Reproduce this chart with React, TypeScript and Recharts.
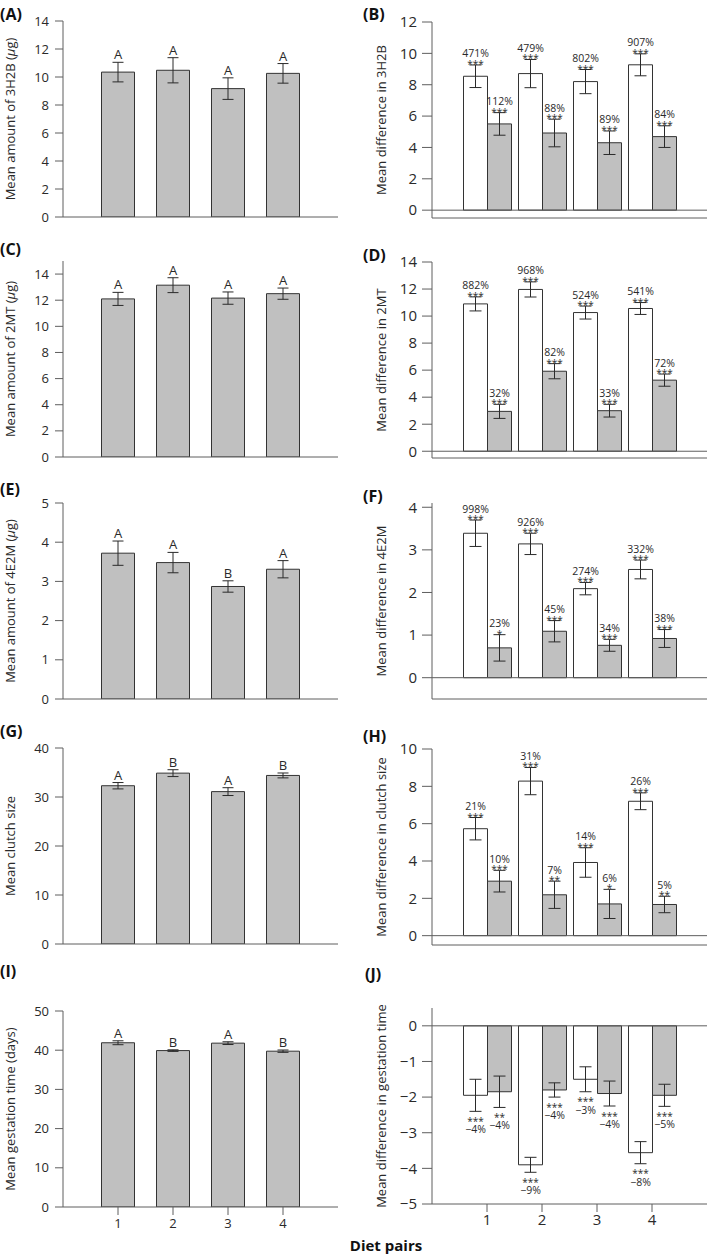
import React from "react";
import { Bar, BarChart, ErrorBar, LabelList, ReferenceLine, XAxis, YAxis } from "recharts";

const pairs = ["1", "2", "3", "4"];

// left column: mean amounts, letters = significance groups
const amount3H2B = [10.35, 10.48, 9.17, 10.26];
const amount3H2BErr = [0.7, 0.9, 0.77, 0.7];
const amount3H2BGroup = ["A", "A", "A", "A"];

const amount2MT = [12.1, 13.15, 12.16, 12.5];
const amount2MTErr = [0.5, 0.57, 0.47, 0.43];
const amount2MTGroup = ["A", "A", "A", "A"];

const amount4E2M = [3.72, 3.48, 2.87, 3.31];
const amount4E2MErr = [0.31, 0.26, 0.145, 0.22];
const amount4E2MGroup = ["A", "A", "B", "A"];

const clutch = [32.3, 34.87, 31.1, 34.4];
const clutchErr = [0.65, 0.7, 0.8, 0.5];
const clutchGroup = ["A", "B", "A", "B"];

const gestation = [41.9, 39.9, 41.8, 39.75];
const gestationErr = [0.5, 0.2, 0.35, 0.3];
const gestationGroup = ["A", "B", "A", "B"];

// right column: mean differences, white and grey bars
const diff3H2BWhite = [8.54, 8.71, 8.2, 9.27];
const diff3H2BWhiteErr = [0.72, 0.9, 0.77, 0.7];
const diff3H2BWhitePct = ["471%", "479%", "802%", "907%"];
const diff3H2BWhiteStars = ["***", "***", "***", "***"];
const diff3H2BGrey = [5.5, 4.92, 4.3, 4.69];
const diff3H2BGreyErr = [0.72, 0.88, 0.75, 0.69];
const diff3H2BGreyPct = ["112%", "88%", "89%", "84%"];
const diff3H2BGreyStars = ["***", "***", "***", "***"];

const diff2MTWhite = [10.9, 11.97, 10.26, 10.56];
const diff2MTWhiteErr = [0.52, 0.56, 0.48, 0.44];
const diff2MTWhitePct = ["882%", "968%", "524%", "541%"];
const diff2MTWhiteStars = ["***", "***", "***", "***"];
const diff2MTGrey = [2.95, 5.92, 3.0, 5.26];
const diff2MTGreyErr = [0.52, 0.56, 0.47, 0.45];
const diff2MTGreyPct = ["32%", "82%", "33%", "72%"];
const diff2MTGreyStars = ["***", "***", "***", "***"];

const diff4E2MWhite = [3.39, 3.14, 2.09, 2.54];
const diff4E2MWhiteErr = [0.31, 0.25, 0.145, 0.22];
const diff4E2MWhitePct = ["998%", "926%", "274%", "332%"];
const diff4E2MWhiteStars = ["***", "***", "***", "***"];
const diff4E2MGrey = [0.7, 1.09, 0.76, 0.92];
const diff4E2MGreyErr = [0.31, 0.25, 0.14, 0.21];
const diff4E2MGreyPct = ["23%", "45%", "34%", "38%"];
const diff4E2MGreyStars = ["*", "***", "***", "***"];

const diffClutchWhite = [5.73, 8.28, 3.92, 7.2];
const diffClutchWhiteErr = [0.6, 0.73, 0.79, 0.45];
const diffClutchWhitePct = ["21%", "31%", "14%", "26%"];
const diffClutchWhiteStars = ["***", "***", "***", "***"];
const diffClutchGrey = [2.92, 2.19, 1.7, 1.67];
const diffClutchGreyErr = [0.58, 0.73, 0.78, 0.44];
const diffClutchGreyPct = ["10%", "7%", "6%", "5%"];
const diffClutchGreyStars = ["***", "**", "*", "**"];

const diffGestWhite = [-1.95, -3.9, -1.5, -3.56];
const diffGestWhiteErr = [0.45, 0.21, 0.35, 0.31];
const diffGestWhitePct = ["\u22124%", "\u22129%", "\u22123%", "\u22128%"];
const diffGestWhiteStars = ["***", "***", "***", "***"];
const diffGestGrey = [-1.85, -1.8, -1.9, -1.95];
const diffGestGreyErr = [0.44, 0.2, 0.35, 0.31];
const diffGestGreyPct = ["\u22124%", "\u22124%", "\u22124%", "\u22125%"];
const diffGestGreyStars = ["**", "***", "***", "***"];

// y ticks
const ticks3H2B = [0, 2, 4, 6, 8, 10, 12, 14];
const ticks2MT = [0, 2, 4, 6, 8, 10, 12, 14];
const ticks4E2M = [0, 1, 2, 3, 4, 5];
const ticksClutch = [0, 10, 20, 30, 40];
const ticksGestation = [0, 10, 20, 30, 40, 50];
const ticksDiff3H2B = [0, 2, 4, 6, 8, 10, 12];
const ticksDiff2MT = [0, 2, 4, 6, 8, 10, 12, 14];
const ticksDiff4E2M = [0, 1, 2, 3, 4];
const ticksDiffClutch = [0, 2, 4, 6, 8, 10];
const ticksDiffGest = [-5, -4, -3, -2, -1, 0];

const FONT = "'Open Sans', sans-serif";
const AXIS = "#5e5e5e";
const INK = "#2a2a2a";
const GREY = "#c0c0c0";
const BOX_H = 196;
const TOP = 40; // room above the box so long axis titles are not clipped
const XH = 34;

const minus = (v: number) => (v < 0 ? "\u2212" + Math.abs(v) : String(v));

const yTitle = (parts: React.ReactNode, cx: number) => () => {
  const cy = TOP + BOX_H / 2;
  return (
    <text x={cx} y={cy} transform={`rotate(-90 ${cx} ${cy})`} textAnchor="middle" dominantBaseline="central"
      fontFamily={FONT} fontSize={13} fill={INK}>
      {parts}
    </text>
  );
};

const barBox = (props: any) => {
  const vb = props.viewBox && props.viewBox.width != null ? props.viewBox : props;
  return { x: Number(vb.x), y: Number(vb.y), width: Number(vb.width), height: Number(vb.height) };
};

const groupLabel = (vals: number[], errs: number[], texts: string[]) => (props: any) => {
  const i = Number(props.value);
  const { x, y, width, height } = barBox(props);
  const ppu = Math.abs(height / vals[i]);
  const top = Math.min(y, y + height) - errs[i] * ppu;
  return (
    <text x={x + width / 2} y={top - 3} textAnchor="middle" fontFamily={FONT} fontSize={13} fill={INK}>
      {texts[i]}
    </text>
  );
};

// percent change and significance stars, above the error bar (or below it for negative bars)
const pctLabel = (vals: number[], errs: number[], pcts: string[], stars: string[]) => (props: any) => {
  const i = Number(props.value);
  const { x, y, width, height } = barBox(props);
  const v = vals[i];
  const ppu = Math.abs(height / v);
  const cx = x + width / 2;
  if (v >= 0) {
    const top = Math.min(y, y + height) - errs[i] * ppu;
    return (
      <text textAnchor="middle" fontFamily={FONT} fill={INK}>
        <tspan x={cx} y={top - 7.5} fontSize={10.5}>{pcts[i]}</tspan>
        <tspan x={cx} y={top + 3} fontSize={10}>{stars[i]}</tspan>
      </text>
    );
  }
  const bottom = Math.max(y, y + height) + errs[i] * ppu;
  return (
    <text textAnchor="middle" fontFamily={FONT} fill={INK}>
      <tspan x={cx} y={bottom + 13.5} fontSize={10}>{stars[i]}</tspan>
      <tspan x={cx} y={bottom + 22} fontSize={10.5}>{pcts[i]}</tspan>
    </text>
  );
};

function AmountPanel({ boxTop, title, domain, ticks, values, errors, groups, showX }: any) {
  const data = pairs.map((pair, i) => ({ pair, v: values[i], e: errors[i], i }));
  return (
    <div style={{ position: "absolute", left: 0, top: boxTop - TOP }}>
      <BarChart width={355} height={TOP + BOX_H + XH} data={data} margin={{ top: TOP, right: 17, bottom: 0, left: 0 }}>
        <XAxis dataKey="pair" height={XH} padding={{ left: 27.5, right: 27.5 }} stroke={AXIS} tickSize={8} tickMargin={4}
          tick={showX ? { fill: INK, fontSize: 13, fontFamily: FONT } : false} />
        <XAxis xAxisId="frame" orientation="top" dataKey="pair" height={0} tick={false} tickLine={false} stroke={AXIS} />
        <YAxis width={63} domain={domain} ticks={ticks} interval={0} allowDataOverflow stroke={AXIS} tickSize={8} tickMargin={6}
          tick={{ fill: INK, fontSize: 13, fontFamily: FONT }} label={yTitle(title, 10)} />
        <YAxis yAxisId="frame" orientation="right" width={0} domain={[0, 1]} tick={false} tickLine={false} stroke={AXIS} />
        <Bar dataKey="v" fill={GREY} stroke="#333" strokeWidth={1} barSize={33} isAnimationActive={false}>
          <ErrorBar dataKey="e" width={5.5} stroke={INK} strokeWidth={1} isAnimationActive={false} />
          <LabelList dataKey="i" content={groupLabel(values, errors, groups)} />
        </Bar>
      </BarChart>
    </div>
  );
}

function DiffPanel({ boxTop, title, domain, ticks, white, whiteErr, whitePct, whiteStars, grey, greyErr, greyPct, greyStars, showX }: any) {
  const data = pairs.map((pair, i) => ({ pair, w: white[i], we: whiteErr[i], g: grey[i], ge: greyErr[i], i }));
  return (
    <div style={{ position: "absolute", left: 355, top: boxTop - TOP }}>
      <BarChart width={354} height={TOP + BOX_H + XH} data={data} barGap={0}
        margin={{ top: TOP, right: 2, bottom: 0, left: 0 }}>
        <XAxis dataKey="pair" height={XH} padding={{ left: 27.5, right: 27.5 }} stroke={AXIS} tickSize={8} tickMargin={2}
          tick={showX ? { fill: INK, fontSize: 15, fontFamily: FONT } : false} />
        <XAxis xAxisId="frame" orientation="top" dataKey="pair" height={0} tick={false} tickLine={false} stroke={AXIS} />
        <YAxis width={77} domain={domain} ticks={ticks} interval={0} allowDataOverflow stroke={AXIS} tickSize={10} tickMargin={5}
          tickFormatter={minus} tick={{ fill: INK, fontSize: 15, fontFamily: FONT }} label={yTitle(title, 26)} />
        <YAxis yAxisId="frame" orientation="right" width={0} domain={[0, 1]} tick={false} tickLine={false} stroke={AXIS} />
        <ReferenceLine y={0} stroke={AXIS} strokeWidth={1} />
        <Bar dataKey="w" fill="#ffffff" stroke="#333" strokeWidth={1} barSize={24} isAnimationActive={false}>
          <ErrorBar dataKey="we" width={6} stroke={INK} strokeWidth={1} isAnimationActive={false} />
          <LabelList dataKey="i" content={pctLabel(white, whiteErr, whitePct, whiteStars)} />
        </Bar>
        <Bar dataKey="g" fill={GREY} stroke="#333" strokeWidth={1} barSize={24} isAnimationActive={false}>
          <ErrorBar dataKey="ge" width={6} stroke={INK} strokeWidth={1} isAnimationActive={false} />
          <LabelList dataKey="i" content={pctLabel(grey, greyErr, greyPct, greyStars)} />
        </Bar>
      </BarChart>
    </div>
  );
}

const ug = (name: string) => (
  <>
    {`Mean amount of ${name} (`}
    <tspan fontStyle="italic">{"\u03bc"}</tspan>
    {"g)"}
  </>
);

const panelLetters: [string, number, number][] = [
  ["(A)", 0, 20], ["(B)", 363, 20], ["(C)", 0, 255], ["(D)", 363, 261], ["(E)", 0, 495],
  ["(F)", 363, 502], ["(G)", 0, 737], ["(H)", 363, 742], ["(I)", 0, 977], ["(J)", 365, 980],
];

export default function App() {
  return (
    <div style={{ position: "absolute", left: 0, top: 0, width: 709, height: 1257, background: "#fff", overflow: "hidden" }}>
      <AmountPanel boxTop={21} title={ug("3H2B")} domain={[0, 14]} ticks={ticks3H2B}
        values={amount3H2B} errors={amount3H2BErr} groups={amount3H2BGroup} />
      <AmountPanel boxTop={261} title={ug("2MT")} domain={[0, 15]} ticks={ticks2MT}
        values={amount2MT} errors={amount2MTErr} groups={amount2MTGroup} />
      <AmountPanel boxTop={503} title={ug("4E2M")} domain={[0, 5]} ticks={ticks4E2M}
        values={amount4E2M} errors={amount4E2MErr} groups={amount4E2MGroup} />
      <AmountPanel boxTop={748} title="Mean clutch size" domain={[0, 40]} ticks={ticksClutch}
        values={clutch} errors={clutchErr} groups={clutchGroup} />
      <AmountPanel boxTop={1011} title="Mean gestation time (days)" domain={[0, 50]} ticks={ticksGestation}
        values={gestation} errors={gestationErr} groups={gestationGroup} showX />

      <DiffPanel boxTop={22} title="Mean difference in 3H2B" domain={[-0.5, 12]} ticks={ticksDiff3H2B}
        white={diff3H2BWhite} whiteErr={diff3H2BWhiteErr} whitePct={diff3H2BWhitePct} whiteStars={diff3H2BWhiteStars}
        grey={diff3H2BGrey} greyErr={diff3H2BGreyErr} greyPct={diff3H2BGreyPct} greyStars={diff3H2BGreyStars} />
      <DiffPanel boxTop={262} title="Mean difference in 2MT" domain={[-0.5, 14]} ticks={ticksDiff2MT}
        white={diff2MTWhite} whiteErr={diff2MTWhiteErr} whitePct={diff2MTWhitePct} whiteStars={diff2MTWhiteStars}
        grey={diff2MTGrey} greyErr={diff2MTGreyErr} greyPct={diff2MTGreyPct} greyStars={diff2MTGreyStars} />
      <DiffPanel boxTop={503} title="Mean difference in 4E2M" domain={[-0.5, 4.1]} ticks={ticksDiff4E2M}
        white={diff4E2MWhite} whiteErr={diff4E2MWhiteErr} whitePct={diff4E2MWhitePct} whiteStars={diff4E2MWhiteStars}
        grey={diff4E2MGrey} greyErr={diff4E2MGreyErr} greyPct={diff4E2MGreyPct} greyStars={diff4E2MGreyStars} />
      <DiffPanel boxTop={749} title="Mean difference in clutch size" domain={[-0.5, 10]} ticks={ticksDiffClutch}
        white={diffClutchWhite} whiteErr={diffClutchWhiteErr} whitePct={diffClutchWhitePct} whiteStars={diffClutchWhiteStars}
        grey={diffClutchGrey} greyErr={diffClutchGreyErr} greyPct={diffClutchGreyPct} greyStars={diffClutchGreyStars} />
      <DiffPanel boxTop={1008} title="Mean difference in gestation time" domain={[-5, 0.5]} ticks={ticksDiffGest}
        white={diffGestWhite} whiteErr={diffGestWhiteErr} whitePct={diffGestWhitePct} whiteStars={diffGestWhiteStars}
        grey={diffGestGrey} greyErr={diffGestGreyErr} greyPct={diffGestGreyPct} greyStars={diffGestGreyStars} showX />

      <svg width={709} height={1257} style={{ position: "absolute", left: 0, top: 0, pointerEvents: "none" }}>
        {panelLetters.map(([t, x, y]) => (
          <text key={t} x={x} y={y} fontFamily={FONT} fontWeight={700} fontSize={16} fill="#111">{t}</text>
        ))}
        <text x={386} y={1251} textAnchor="middle" fontFamily={FONT} fontWeight={700} fontSize={15} fill="#111">Diet pairs</text>
      </svg>
    </div>
  );
}
